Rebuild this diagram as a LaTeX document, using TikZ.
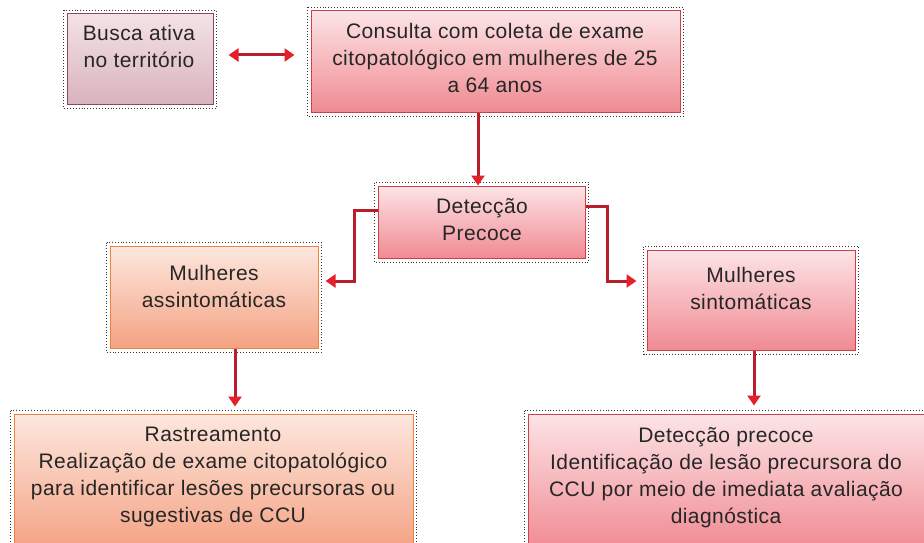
\documentclass[tikz,border=0pt]{standalone}
\usepackage{fontspec}
\setmainfont[LetterSpace=2]{Liberation Sans}
\usetikzlibrary{arrows.meta,calc}
\definecolor{pinkT}{HTML}{FCE4E6}
\definecolor{pinkB}{HTML}{F08A92}
\definecolor{pinkD}{HTML}{C8414B}
\definecolor{mauT}{HTML}{F4E2E6}
\definecolor{mauB}{HTML}{D9B3BD}
\definecolor{mauD}{HTML}{8B4A5C}
\definecolor{orT}{HTML}{FDE7DE}
\definecolor{orB}{HTML}{F4A283}
\definecolor{orD}{HTML}{E8853F}
\definecolor{lineR}{HTML}{B81E2C}
\definecolor{headR}{HTML}{E4202C}
\tikzset{
  box/.style={rectangle, line width=1pt, inner sep=0pt},
  pinkbox/.style={box, draw=pinkD, top color=pinkT, bottom color=pinkB},
  maubox/.style={box, draw=mauD, top color=mauT, bottom color=mauB},
  orbox/.style={box, draw=orD, top color=orT, bottom color=orB},
  txt/.style={align=center, font=\fontsize{21}{27}\selectfont, text=black!85, inner sep=0pt},
  dotframe/.style={draw=black!80, dotted, line width=0.9pt},
  conn/.style={draw=lineR, line width=3pt, -{Triangle[width=13pt,length=10pt,color=headR]}},
  dconn/.style={draw=lineR, line width=3pt, {Triangle[width=13pt,length=10pt,color=headR]}-{Triangle[width=13pt,length=10pt,color=headR]}}
}
\begin{document}
\begin{tikzpicture}[x=1pt,y=-1pt]
\useasboundingbox (0,0) rectangle (924,543);
\clip (0,0) rectangle (924,543);
% boxes
\node[maubox, minimum width=146pt, minimum height=90pt] (b1) at (140,59) {};
\node[pinkbox, minimum width=369pt, minimum height=101pt] (b2) at (495.5,61.5) {};
\node[pinkbox, minimum width=207pt, minimum height=72pt] (det) at (481.5,222) {};
\node[orbox, minimum width=208pt, minimum height=102pt] (asn) at (214,297) {};
\node[pinkbox, minimum width=208pt, minimum height=100pt] (sin) at (751,300) {};
\node[orbox, minimum width=399pt, minimum height=136pt] (ras) at (213.5,482) {};
\node[pinkbox, minimum width=396pt, minimum height=136pt] (dpr) at (726,482) {};
% dotted frames
\foreach \n in {b1,b2,det,asn,sin,ras,dpr}{
  \draw[dotframe] ($(\n.north west)+(-3,-3)$) rectangle ($(\n.south east)+(3,4)$);
}
% texts
\node[txt] (t1) at (139,46) {Busca ativa\\no território};
\node[txt] (t2) at (495,58) {Consulta com coleta de exame\\citopatológico em mulheres de 25\\a 64 anos};
\node[txt] (t3) at (482,220) {Detecção\\Precoce};
\node[txt] (t4) at (214,286) {Mulheres\\assintomáticas};
\node[txt] (t5) at (751,288) {Mulheres\\sintomáticas};
\node[txt] (t6) at (213,477) {Rastreamento\\Realização de exame citopatológico\\para identificar lesões precursoras ou\\sugestivas de CCU};
\node[txt] (t7) at (726,478) {Detecção precoce\\Identificação de lesão precursora do\\CCU por meio de imediata avaliação\\diagnóstica};
% connectors
\draw[dconn, shorten <=15pt, shorten >=16pt] ([yshift=4pt]b1.east) -- ([yshift=4pt]b1.east -| b2.west);
\draw[conn] ([xshift=-3.5pt]det.north |- b2.south) -- ([xshift=-3.5pt]det.north);
\draw[conn, shorten >=7pt] ([yshift=12pt]det.west) -- ++(-23,0) |- ([yshift=16pt]asn.east);
\draw[conn, shorten >=10pt] ([yshift=16pt]det.east) -- ++(22,0) |- ([yshift=19pt]sin.west);
\draw[conn, shorten >=7pt] ([xshift=21pt]asn.south) -- ([xshift=21pt]asn.south |- ras.north);
\draw[conn, shorten >=8pt] ([xshift=3pt]sin.south) -- ([xshift=3pt]sin.south |- dpr.north);
\end{tikzpicture}
\end{document}
